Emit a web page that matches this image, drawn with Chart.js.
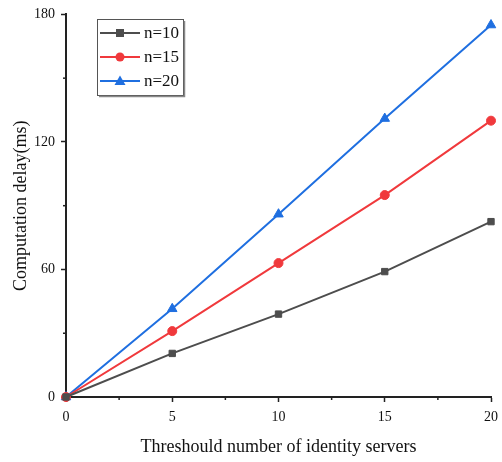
<!DOCTYPE html>
<html>
<head>
<meta charset="utf-8">
<script src="https://cdn.jsdelivr.net/npm/chart.js@4"></script>
<style>
  html, body { margin: 0; padding: 0; background: #fff; }
  #wrap { width: 502px; height: 462px; }
</style>
</head>
<body>
<div id="wrap"><canvas id="dataChart" width="502" height="462"></canvas></div>
<script>
const thresholds = [0, 5, 10, 15, 20];
const delayN10 = [0, 20.5, 39, 59, 82.5];
const delayN15 = [0, 31, 63, 95, 130];
const delayN20 = [0, 41.5, 86, 131, 175];
const seriesLabels = ["n=10", "n=15", "n=20"];
const xTicks = [0, 5, 10, 15, 20];
const yTicks = [0, 60, 120, 180];

const SERIF = "'Liberation Serif', 'Times New Roman', serif";
const AXIS = "#222";

function toPoints(values) {
    return thresholds.map((x, i) => ({ x: x, y: values[i] }));
}

function makeSet(label, values, color, style) {
    return {
        label: label,
        data: toPoints(values),
        borderColor: color,
        backgroundColor: color,
        borderWidth: 2,
        pointStyle: style,
        pointRadius: style === "triangle" ? 5.5 : 4.5,
        pointBorderWidth: 1,
        clip: false
    };
}

// minor ticks + legend box, all placed through the chart's own scales
const extras = {
    id: "extras",
    afterDraw(chart) {
        const ctx = chart.ctx;
        const xs = chart.scales.x, ys = chart.scales.y;
        ctx.save();
        ctx.strokeStyle = AXIS;
        ctx.lineWidth = 1.5;
        for (let i = 0; i < xTicks.length - 1; i++) {
            const px = xs.getPixelForValue((xTicks[i] + xTicks[i + 1]) / 2);
            ctx.beginPath();
            ctx.moveTo(px, ys.bottom);
            ctx.lineTo(px, ys.bottom + 3);
            ctx.stroke();
        }
        for (let i = 0; i < yTicks.length - 1; i++) {
            const py = ys.getPixelForValue((yTicks[i] + yTicks[i + 1]) / 2);
            ctx.beginPath();
            ctx.moveTo(xs.left, py);
            ctx.lineTo(xs.left - 3, py);
            ctx.stroke();
        }

        // legend
        const bx = 97, by = 19, bw = 86, bh = 76;
        ctx.fillStyle = "#fff";
        ctx.fillRect(bx, by, bw, bh);
        ctx.strokeStyle = "#555";
        ctx.lineWidth = 1;
        ctx.strokeRect(bx + 0.5, by + 0.5, bw, bh);
        ctx.strokeStyle = "#888";
        ctx.lineWidth = 1.5;
        ctx.beginPath();
        ctx.moveTo(bx + bw + 1.5, by + 2);
        ctx.lineTo(bx + bw + 1.5, by + bh + 1.5);
        ctx.lineTo(bx + 2, by + bh + 1.5);
        ctx.stroke();

        ctx.font = "17px " + SERIF;
        ctx.textBaseline = "middle";
        chart.data.datasets.forEach((ds, i) => {
            const cy = by + 14 + i * 24;
            ctx.strokeStyle = ds.borderColor;
            ctx.lineWidth = 2;
            ctx.beginPath();
            ctx.moveTo(bx + 3, cy);
            ctx.lineTo(bx + 43, cy);
            ctx.stroke();
            ctx.fillStyle = ds.borderColor;
            const mx = bx + 23;
            ctx.beginPath();
            if (ds.pointStyle === "rect") {
                ctx.rect(mx - 4, cy - 4, 8, 8);
            } else if (ds.pointStyle === "circle") {
                ctx.arc(mx, cy, 4.5, 0, Math.PI * 2);
            } else {
                ctx.moveTo(mx, cy - 5.5);
                ctx.lineTo(mx + 5.5, cy + 4);
                ctx.lineTo(mx - 5.5, cy + 4);
                ctx.closePath();
            }
            ctx.fill();
            ctx.fillStyle = "#111";
            ctx.fillText(ds.label, bx + 47, cy + 1);
        });
        ctx.restore();
    }
};

const ctx = document.getElementById("dataChart").getContext("2d");
new Chart(ctx, {
    type: "line",
    data: {
        datasets: [
            makeSet(seriesLabels[0], delayN10, "#4d4d4d", "rect"),
            makeSet(seriesLabels[1], delayN15, "#f0393c", "circle"),
            makeSet(seriesLabels[2], delayN20, "#1f6fe0", "triangle")
        ]
    },
    options: {
        responsive: false,
        animation: false,
        layout: { padding: { top: 13, right: 11, left: 0, bottom: 0 } },
        plugins: { legend: { display: false }, tooltip: { enabled: false } },
        elements: { line: { tension: 0 } },
        scales: {
            x: {
                type: "linear",
                min: 0,
                max: 20,
                afterBuildTicks: s => { s.ticks = xTicks.map(v => ({ value: v })); },
                afterFit: s => { s.height = 65; s.paddingRight = 0; s.paddingLeft = 0; },
                grid: { drawOnChartArea: false, tickLength: 5, tickWidth: 1.5, tickColor: AXIS },
                border: { color: AXIS, width: 2 },
                ticks: { color: "#111", font: { family: SERIF, size: 14 }, padding: 7, maxRotation: 0 },
                title: {
                    display: true,
                    text: "Threshould number of identity servers",
                    color: "#111",
                    font: { family: SERIF, size: 18 },
                    padding: { top: 10 }
                }
            },
            y: {
                min: 0,
                max: 180,
                afterBuildTicks: s => { s.ticks = yTicks.map(v => ({ value: v })); },
                afterFit: s => { s.width = 66; },
                grid: { drawOnChartArea: false, tickLength: 5, tickWidth: 1.5, tickColor: AXIS },
                border: { color: AXIS, width: 2 },
                ticks: { color: "#111", font: { family: SERIF, size: 14 }, padding: 6 },
                title: {
                    display: true,
                    text: "Computation delay(ms)",
                    color: "#111",
                    font: { family: SERIF, size: 18 },
                    padding: { top: 10, bottom: 4 }
                }
            }
        }
    },
    plugins: [extras]
});
</script>
</body>
</html>
